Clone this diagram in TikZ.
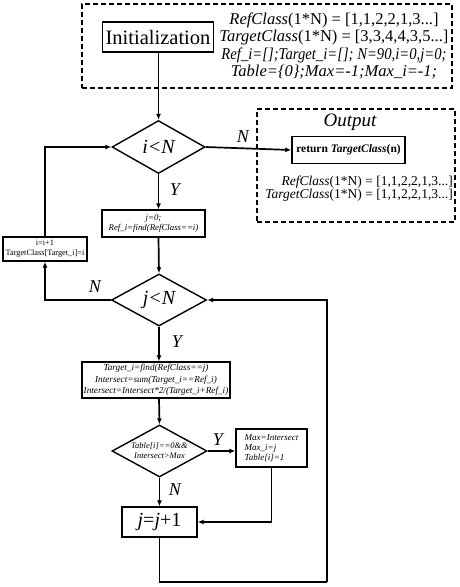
\documentclass[tikz,border=0pt]{standalone}
\usepackage{fontspec}
\setmainfont{Liberation Serif}
\usepackage{tikz}
\usetikzlibrary{arrows.meta, shapes.geometric, positioning}

\begin{document}
\begin{tikzpicture}[x=1pt, y=-1pt, >={Latex[length=6pt,width=5pt]},
    every node/.style={inner sep=1pt},
    line/.style={line width=1.7pt},
    dashframe/.style={draw, dashed, line width=1.3pt, dash pattern=on 5pt off 3pt},
    procbox/.style={draw, line width=1.4pt, rectangle},
    decision/.style={draw, line width=1.4pt, diamond, inner sep=0pt, aspect=1.8},
    lbl/.style={font=\fontsize{18}{20}\selectfont\itshape}]
    \useasboundingbox (0,0) rectangle (459,587);

    % Khung khởi tạo
    \node[dashframe, minimum width=370, minimum height=84] (initframe) at (267,46) {};
    \node[procbox, minimum width=111, minimum height=30,
          font=\fontsize{20.5}{24}\selectfont] (init) at (158,37) {Initialization};
    \node[align=center, font=\fontsize{16.5}{17.5}\selectfont] (inittext) at (334,46)
        {\textit{RefClass}(1*N) = [1,1,2,2,1,3...]\\
         \textit{TargetClass}(1*N) = [3,3,4,4,3,5...]\\
         \scalebox{0.89}[1]{\textit{Ref\_i=[];Target\_i=[]; N=90,i=0,j=0;}}\\
         \textit{Table=\{0\};Max=-1;Max\_i=-1;}};

    % Khung kết quả
    \node[dashframe, minimum width=198, minimum height=113] (outframe) at (356,165.5) {};
    \node[lbl, font=\fontsize{19}{22}\selectfont\itshape] (outtitle) at (350,122) {Output};
    \node[procbox, minimum width=113, minimum height=27,
          font=\fontsize{11.5}{13}\selectfont\bfseries] (ret) at (348.5,150)
        {return \textit{TargetClass}(n)};
    \node[align=right, anchor=east, font=\fontsize{13.5}{12}\selectfont] (outtext) at (454,189)
        {\textit{RefClass}(1*N) = [1,1,2,2,1,3...]\\
         \textit{TargetClass}(1*N) = [1,1,2,2,1,3...]};

    % Vòng lặp theo i
    \node[decision, minimum width=93, minimum height=53,
          font=\fontsize{20}{22}\selectfont\itshape] (condi) at (158.5,147) {i<N};
    \node[procbox, minimum width=103, minimum height=27, align=center,
          font=\fontsize{8.8}{9.5}\selectfont\itshape] (setj) at (153.5,223.5)
        {j=0;\\Ref\_i=find(RefClass==i)};
    \node[procbox, minimum width=84, minimum height=24, align=center,
          font=\fontsize{8.3}{10}\selectfont] (nexti) at (45,249)
        {i=i+1\\TargetClass[Target\_i]=i};

    % Vòng lặp theo j
    \node[decision, minimum width=95, minimum height=52,
          font=\fontsize{20}{22}\selectfont\itshape] (condj) at (159,300) {j<N};
    \node[procbox, minimum width=148, minimum height=36, align=center,
          font=\fontsize{9.2}{11.5}\selectfont\itshape] (inter) at (156,380)
        {Target\_i=find(RefClass==j)\\
         Intersect=sum(Target\_i==Ref\_i)\\
         Intersect=Intersect*2/(Target\_i+Ref\_i)};
    \node[decision, minimum width=95, minimum height=52, align=center,
          font=\fontsize{8.5}{10}\selectfont\itshape] (condmax) at (159.5,451)
        {Table[i]==0\&\&\\Intersect>Max};
    \node[procbox, minimum width=71, minimum height=38, align=left,
          font=\fontsize{9}{10}\selectfont\itshape] (setmax) at (271.5,448)
        {Max=Intersect\\Max\_i=j\\Table[i]=1};
    \node[procbox, minimum width=75, minimum height=30,
          font=\fontsize{20}{22}\selectfont] (nextj) at (159.5,522) {\textit{j}=\textit{j}+1};
    \coordinate (loopend) at (327,582);

    % Các mũi tên
    \draw[line, ->] (init.south -| condi.north) -- (condi.north);
    \draw[line, ->] (condi.east) -- (ret.west);
    \draw[line, ->] (condi.south) -- (condi.south |- setj.north);
    \draw[line, ->] (condi.south |- setj.south) -- (condj.north);
    \draw[line, ->] (condj.west) -| (nexti.south);
    \draw[line, ->] (nexti.north) |- (condi.west);
    \draw[line, ->] (condj.south) -- (condj.south |- inter.north);
    \draw[line, ->] (condj.south |- inter.south) -- (condmax.north);
    \draw[line, ->] (condmax.east) -- (condmax.east -| setmax.west);
    \draw[line, ->] (condmax.south) -- (condmax.south |- nextj.north);
    \draw[line, ->] (setmax.south) |- (nextj.east);
    \draw[line] (nextj.south) |- (loopend);
    \draw[line, ->] (loopend) |- (condj.east);

    % Nhãn Y / N
    \node[lbl] at (243,137) {N};
    \node[lbl] at (175,190) {Y};
    \node[lbl] at (95,287) {N};
    \node[lbl] at (177,342) {Y};
    \node[lbl] at (218,440) {Y};
    \node[lbl] at (175,490) {N};
\end{tikzpicture}
\end{document}
